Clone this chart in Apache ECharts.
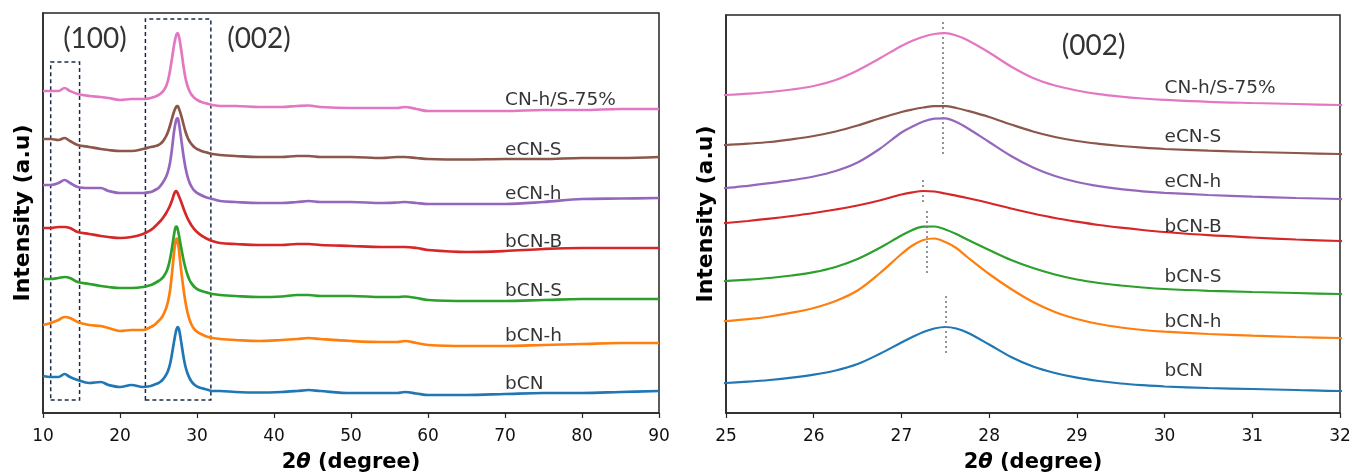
<!DOCTYPE html>
<html>
<head>
<meta charset="utf-8">
<script src="https://cdn.jsdelivr.net/npm/echarts@6.0.0/dist/echarts.min.js"></script>
<style>
  html, body { margin: 0; padding: 0; background: #fff; }
  #chart { width: 1352px; height: 473px; }
</style>
</head>
<body>
<div id="chart"></div>
<script>
// 2θ sampling positions (degree), denser across the (002) reflection
const twoTheta = [10, 11, 12, 12.8, 13.5, 14.5, 16, 17.5, 18.5, 20, 21.5, 23,
  24, 24.25, 24.5, 24.75, 25, 25.25, 25.5, 25.75, 26, 26.25, 26.5, 26.75,
  27, 27.125, 27.25, 27.375, 27.5, 27.625, 27.75,
  28, 28.25, 28.5, 28.75, 29, 29.25, 29.5, 29.75, 30, 30.5, 31, 31.5, 32,
  33, 35, 38, 41, 43, 44.5, 46, 50, 54, 56, 57, 58.5, 60, 65, 70, 75, 80, 85, 90];

// Offset intensities (a.u.), one array per sample
const bCN = [37, 36, 36, 39, 36, 33, 30, 31, 28, 26, 28, 26,
  27, 27.7, 28.4, 29.2, 30, 31.3, 33, 35.3, 38.3, 42.5, 49, 59,
  70.5, 76, 81, 84.5, 86, 84.5, 80.5,
  68.5, 56, 46.5, 40, 35.3, 32, 29.5, 27.8, 26.5, 25, 24, 23, 22,
  22, 21, 20.5, 21, 22, 23, 22, 20, 20, 20, 21, 19.5, 18, 18, 19, 20, 20, 21, 22];
const bCN_h = [88, 90, 93, 96, 95, 91, 88, 87, 85, 82, 83, 83,
  86, 87, 88.3, 90, 92, 93.8, 96.5, 100.3, 105, 112, 122.5, 139.5,
  159, 167.5, 173, 174.5, 171, 165, 156,
  139, 124, 111, 101, 94, 89, 85.5, 83, 81.3, 79, 77.3, 76, 75,
  74, 73, 72, 73, 74, 75, 74, 72, 71, 71, 72, 70, 68, 67, 67, 68, 69, 70, 70];
const bCN_S = [134, 134, 135, 136, 135, 131, 129, 127, 126, 125, 125, 126,
  128, 128.8, 129.7, 130.8, 132, 133.3, 135, 137.5, 140.8, 146, 154, 165,
  177.5, 183, 186.3, 186.5, 183.5, 179, 173.5,
  163, 153, 145, 138.5, 133.5, 130, 127.5, 125.5, 124, 122.2, 121, 120, 119,
  118, 117, 116, 116.5, 118, 118, 117, 117, 116, 116, 116.5, 115, 113, 112, 112, 113, 114, 114, 114];
const bCN_B = [185, 185, 186, 186, 185, 181, 179, 177, 176, 175, 176, 179,
  183, 184.5, 186.2, 188, 190, 192, 194.3, 197, 200, 203.5, 207.5, 212.5,
  218.5, 220.7, 222, 221.5, 219.5, 217.3, 215,
  210, 204.5, 199.5, 195, 191.3, 188, 185.3, 183, 181, 177.8, 175.5, 173.5, 172,
  170, 169, 168, 168, 169, 169, 168, 167, 166, 166, 166, 165, 163, 161, 162, 164, 165, 165, 165];
const eCN_h = [228, 228, 230, 233, 230, 226, 225, 225, 222, 220, 220, 220,
  221, 221.8, 222.7, 223.8, 225, 227.2, 229.8, 232.8, 236.5, 242, 250.5, 264,
  280.5, 286.5, 291.5, 294.3, 294.7, 291, 285,
  271, 257, 245.5, 237, 231, 226.8, 223.8, 221.7, 220.2, 218, 216.3, 215, 214,
  212, 211, 210, 210, 211, 212, 211, 211, 210, 210.5, 211, 210, 209, 209, 209, 211, 214, 214.5, 215];
const eCN_S = [274, 274, 273, 275, 272, 268, 266, 264, 263, 262, 262, 264,
  266, 266.3, 266.8, 267.3, 268, 269.3, 271, 273.7, 277, 281.5, 287.5, 294.5,
  301, 303.5, 305.5, 306.8, 306.8, 305, 302.3,
  296, 288.5, 281.5, 276, 272, 269.2, 267, 265.3, 264, 262.3, 261, 260, 259,
  258, 257, 256, 256, 257, 257, 256, 256, 255, 256, 256, 255, 254, 253.5, 254, 254, 255, 255, 256];
const CN_hS_75 = [322, 322, 322, 325, 322, 319, 317, 316, 315, 313, 314, 314,
  315, 315.6, 316.3, 317, 318, 319.3, 321, 323.5, 327, 333, 342.5, 354.5,
  367, 372.2, 376.3, 379, 379.8, 377.5, 373,
  360.5, 346.5, 335, 327.5, 322.5, 318.8, 316.3, 314.5, 313.2, 311.2, 310, 309, 308,
  307, 307, 306, 306, 307, 307.5, 306, 305, 305, 305, 306, 304, 302, 302, 302, 303, 303, 304, 304];

const sampleNames = ['bCN', 'bCN-h', 'bCN-S', 'bCN-B', 'eCN-h', 'eCN-S', 'CN-h/S-75%'];
const curves = [bCN, bCN_h, bCN_S, bCN_B, eCN_h, eCN_S, CN_hS_75];

// Axis ticks
const wideTicks = [10, 20, 30, 40, 50, 60, 70, 80, 90];
const zoomTicks = [25, 26, 27, 28, 29, 30, 31, 32];

// Sample name anchors (2θ, a.u.)
const wideLabelX = 70;
const wideLabelY = [29, 77, 122, 171, 219, 263, 313];
const zoomLabelX = 30;
const zoomLabelY = [42, 91, 136, 186, 231, 276, 325];

// Reflection annotations
const wideHkl = [{ text: '(100)', at: [16.75, 374] }, { text: '(002)', at: [38.05, 374] }];
const zoomHkl = [{ text: '(002)', at: [29.19, 367] }];

// Dashed regions on the wide scan: [2θ from, 2θ to, a.u. bottom, a.u. top]
const hklRegions = [[11.0, 14.75, 13, 351], [23.3, 31.8, 13, 394]];

// (002) peak position guides: [2θ, a.u. low, a.u. high]
const peakGuides = [[27.47, 259, 391], [27.24, 211, 236], [27.29, 140, 202], [27.50, 60, 119]];

const colors = ['#1f77b4', '#ff7f0e', '#2ca02c', '#d62728', '#9467bd', '#8c564b', '#e377c2'];
const FONT = 'DejaVu Sans';

function pairs(vals) { return twoTheta.map((t, i) => [t, vals[i]]); }

function xAxisFor(gridIndex, ticks) {
  return {
    type: 'value', gridIndex,
    min: ticks[0], max: ticks[ticks.length - 1], interval: ticks[1] - ticks[0],
    name: '{n|2}{t|θ}{n| (degree)}',
    nameLocation: 'middle', nameGap: 39,
    nameTextStyle: {
      fontFamily: FONT, fontSize: 21, fontWeight: 'bold', color: '#000',
      rich: {
        n: { fontFamily: FONT, fontSize: 21, fontWeight: 'bold', color: '#000' },
        t: { fontFamily: FONT, fontSize: 21, fontWeight: 'bold', fontStyle: 'italic', color: '#000' }
      }
    },
    axisLine: { show: true, onZero: false, lineStyle: { color: '#262626', width: 1.5 } },
    axisTick: { show: true, length: 5, lineStyle: { color: '#262626', width: 1.2 } },
    axisLabel: { fontFamily: FONT, fontSize: 17, color: '#111', margin: 15 },
    splitLine: { show: false }
  };
}

function yAxisFor(gridIndex, max) {
  return {
    type: 'value', gridIndex, min: 0, max,
    name: 'Intensity (a.u)', nameLocation: 'middle', nameGap: 9,
    nameTextStyle: { fontFamily: FONT, fontSize: 22, fontWeight: 'bold', color: '#000' },
    axisLine: { show: true, lineStyle: { color: '#262626', width: 1.5 } },
    axisTick: { show: false }, axisLabel: { show: false }, splitLine: { show: false }
  };
}

const series = [];
[0, 1].forEach(g => {
  curves.forEach((c, i) => {
    series.push({
      type: 'line', xAxisIndex: g, yAxisIndex: g, data: pairs(c),
      symbol: 'none', smooth: 0.35, clip: true, silent: true, z: 2 + i,
      lineStyle: { color: colors[i], width: g === 0 ? 2.7 : 2.2 },
      itemStyle: { color: colors[i] }
    });
  });
});

// Dashed boxes around the (100) and (002) regions
series[0].markArea = {
  silent: true,
  itemStyle: { color: 'rgba(0,0,0,0)', borderColor: '#1c2a4a', borderWidth: 1.5, borderType: [4, 3] },
  data: hklRegions.map(r => [{ coord: [r[0], r[2]] }, { coord: [r[1], r[3]] }])
};

// Dotted guides at the (002) peak maxima
series[7].markLine = {
  silent: true, symbol: ['none', 'none'], label: { show: false },
  lineStyle: { color: '#7a7a7a', type: [2, 3], width: 1.6 },
  data: peakGuides.map(p => [{ coord: [p[0], p[1]] }, { coord: [p[0], p[2]] }])
};

function nameLabels(g, x, ys) {
  return {
    type: 'scatter', xAxisIndex: g, yAxisIndex: g, symbolSize: 0, silent: true, z: 20,
    data: sampleNames.map((n, i) => ({ name: n, value: [x, ys[i]] })),
    label: { show: true, position: 'right', distance: 0, formatter: '{b}',
      fontFamily: FONT, fontSize: 18.5, color: '#000', align: 'left', verticalAlign: 'middle' }
  };
}
function hklLabels(g, items) {
  return {
    type: 'scatter', xAxisIndex: g, yAxisIndex: g, symbolSize: 0, silent: true, z: 20,
    data: items.map(h => ({ name: h.text, value: h.at })),
    label: { show: true, position: 'inside', formatter: '{b}',
      fontFamily: 'Lato', fontSize: 28, color: '#000', align: 'center', verticalAlign: 'middle' }
  };
}
series.push(nameLabels(0, wideLabelX, wideLabelY));
series.push(nameLabels(1, zoomLabelX, zoomLabelY));
series.push(hklLabels(0, wideHkl));
series.push(hklLabels(1, zoomHkl));

const chart = echarts.init(document.getElementById('chart'), null, { renderer: 'canvas' });
chart.setOption({
  animation: false,
  backgroundColor: '#fff',
  grid: [
    { left: 43, top: 13, width: 616, height: 400, outerBoundsMode: 'none', containLabel: false,
      show: true, borderColor: '#262626', borderWidth: 1.5, backgroundColor: 'transparent' },
    { left: 726, top: 15, width: 614, height: 398, outerBoundsMode: 'none', containLabel: false,
      show: true, borderColor: '#262626', borderWidth: 1.5, backgroundColor: 'transparent' }
  ],
  xAxis: [xAxisFor(0, wideTicks), xAxisFor(1, zoomTicks)],
  yAxis: [yAxisFor(0, 400), yAxisFor(1, 398)],
  series
});
</script>
</body>
</html>
